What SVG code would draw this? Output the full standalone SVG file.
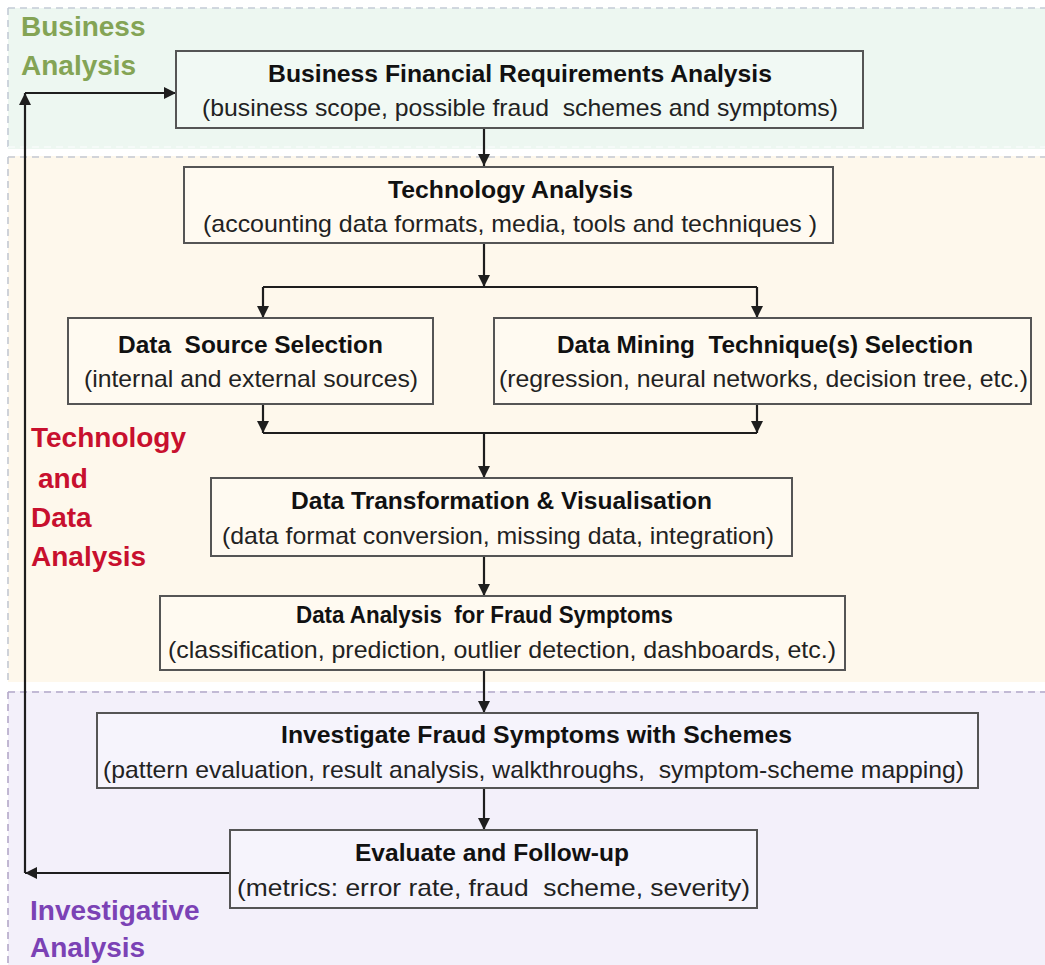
<svg xmlns="http://www.w3.org/2000/svg" width="1045" height="965" viewBox="0 0 1045 965">
  <defs>
    <marker id="arrow" viewBox="0 0 12 12" refX="12" refY="6" markerWidth="12" markerHeight="12" markerUnits="userSpaceOnUse" orient="auto">
      <path d="M0,0 L12,6 L0,12 z" fill="#1e1e1e"/>
    </marker>
  </defs>
  <style>
    .band-line { fill: none; stroke-width: 1.6; stroke-dasharray: 7 5; }
    .box { stroke: #555; stroke-width: 2; }
    .title { font-family: "Liberation Sans", Arial, sans-serif; font-weight: bold; font-size: 24px; fill: #111; }
    .sub { font-family: "Liberation Sans", Arial, sans-serif; font-size: 24px; fill: #222; }
    .lane { font-family: "Liberation Sans", Arial, sans-serif; font-weight: bold; font-size: 28px; }
    .conn { fill: none; stroke: #1e1e1e; stroke-width: 2.2; }
  </style>

  <rect width="1045" height="965" fill="#ffffff"/>

  <!-- swimlane bands -->
  <g id="band-business">
    <rect x="8" y="8" width="1045" height="141" fill="#edf7f1"/>
    <path d="M8,8 H1045 M8,8 V149" class="band-line" stroke="#c3cbd6"/>
    <path d="M8,147 H1045" class="band-line" stroke="#f8fbfa"/>
    <text class="lane" fill="#84a455" x="21" y="36">Business</text>
    <text class="lane" fill="#84a455" x="21" y="75">Analysis</text>
  </g>
  <g id="band-technology">
    <rect x="8" y="156" width="1045" height="526" fill="#fef8ec"/>
    <path d="M8,157 H1045 M8,157 V682" class="band-line" stroke="#c3c8d2"/>
    <text class="lane" fill="#c8102e" x="31" y="447">Technology</text>
    <text class="lane" fill="#c8102e" x="38" y="488"> and</text>
    <text class="lane" fill="#c8102e" x="31" y="527">Data</text>
    <text class="lane" fill="#c8102e" x="31" y="566">Analysis</text>
  </g>
  <g id="band-investigative">
    <rect x="8" y="691" width="1045" height="280" fill="#f3f0fa"/>
    <path d="M8,692 H1045 M8,692 V965" class="band-line" stroke="#b3a8c9"/>
    <text class="lane" fill="#7b42b5" x="30" y="920">Investigative</text>
    <text class="lane" fill="#7b42b5" x="30" y="957">Analysis</text>
  </g>

  <!-- connectors -->
  <g id="connectors">
    <path class="conn" d="M484,128 V166" marker-end="url(#arrow)"/>
    <path class="conn" d="M484,243 V287" marker-end="url(#arrow)"/>
    <path class="conn" d="M263,287 H757"/>
    <path class="conn" d="M263,287 V318" marker-end="url(#arrow)"/>
    <path class="conn" d="M757,287 V318" marker-end="url(#arrow)"/>
    <path class="conn" d="M263,404 V433" marker-end="url(#arrow)"/>
    <path class="conn" d="M757,404 V433" marker-end="url(#arrow)"/>
    <path class="conn" d="M263,433 H757"/>
    <path class="conn" d="M484,433 V478" marker-end="url(#arrow)"/>
    <path class="conn" d="M484,556 V596" marker-end="url(#arrow)"/>
    <path class="conn" d="M484,670 V713" marker-end="url(#arrow)"/>
    <path class="conn" d="M484,788 V830" marker-end="url(#arrow)"/>
    <path class="conn" d="M230,873 H25" marker-end="url(#arrow)"/>
    <path class="conn" d="M25,873 V93" marker-end="url(#arrow)"/>
    <path class="conn" d="M25,93 H176" marker-end="url(#arrow)"/>
  </g>

  <!-- process nodes -->
  <g id="node-business-requirements">
    <rect class="box" x="176" y="51" width="687" height="77" fill="#f1f9f4"/>
    <text class="title" x="268" y="82" textLength="504" lengthAdjust="spacingAndGlyphs">Business Financial Requirements Analysis</text>
    <text class="sub" x="202" y="116" textLength="636" lengthAdjust="spacingAndGlyphs" xml:space="preserve">(business scope, possible fraud  schemes and symptoms)</text>
  </g>
  <g id="node-technology-analysis">
    <rect class="box" x="184" y="167" width="649" height="76" fill="#fffaf1"/>
    <text class="title" x="388" y="198" textLength="245" lengthAdjust="spacingAndGlyphs">Technology Analysis</text>
    <text class="sub" x="203" y="232" textLength="614" lengthAdjust="spacingAndGlyphs">(accounting data formats, media, tools and techniques )</text>
  </g>
  <g id="node-data-source">
    <rect class="box" x="68" y="318" width="365" height="86" fill="#fffaf1"/>
    <text class="title" x="118" y="353" textLength="265" lengthAdjust="spacingAndGlyphs" xml:space="preserve">Data  Source Selection</text>
    <text class="sub" x="84" y="387" textLength="334" lengthAdjust="spacingAndGlyphs">(internal and external sources)</text>
  </g>
  <g id="node-data-mining">
    <rect class="box" x="494" y="318" width="537" height="86" fill="#fffaf1"/>
    <text class="title" x="557" y="353" textLength="416" lengthAdjust="spacingAndGlyphs" xml:space="preserve">Data Mining  Technique(s) Selection</text>
    <text class="sub" x="499" y="387" textLength="529" lengthAdjust="spacingAndGlyphs">(regression, neural networks, decision tree, etc.)</text>
  </g>
  <g id="node-data-transformation">
    <rect class="box" x="211" y="478" width="581" height="78" fill="#fffaf1"/>
    <text class="title" x="291" y="509" textLength="421" lengthAdjust="spacingAndGlyphs">Data Transformation &amp; Visualisation</text>
    <text class="sub" x="222" y="544" textLength="552" lengthAdjust="spacingAndGlyphs">(data format conversion, missing data, integration)</text>
  </g>
  <g id="node-data-analysis">
    <rect class="box" x="160" y="596" width="685" height="74" fill="#fffaf1"/>
    <text class="title" x="296" y="623" textLength="377" lengthAdjust="spacingAndGlyphs" xml:space="preserve">Data Analysis  for Fraud Symptoms</text>
    <text class="sub" x="168" y="658" textLength="668" lengthAdjust="spacingAndGlyphs">(classification, prediction, outlier detection, dashboards, etc.)</text>
  </g>
  <g id="node-investigate">
    <rect class="box" x="97" y="713" width="881" height="75" fill="#f6f4fc"/>
    <text class="title" x="281" y="743" textLength="511" lengthAdjust="spacingAndGlyphs">Investigate Fraud Symptoms with Schemes</text>
    <text class="sub" x="103" y="778" textLength="861" lengthAdjust="spacingAndGlyphs" xml:space="preserve">(pattern evaluation, result analysis, walkthroughs,  symptom-scheme mapping)</text>
  </g>
  <g id="node-evaluate">
    <rect class="box" x="230" y="830" width="527" height="78" fill="#f6f4fc"/>
    <text class="title" x="355" y="861" textLength="274" lengthAdjust="spacingAndGlyphs">Evaluate and Follow-up</text>
    <text class="sub" x="237" y="896" textLength="513" lengthAdjust="spacingAndGlyphs" xml:space="preserve">(metrics: error rate, fraud  scheme, severity)</text>
  </g>
</svg>
